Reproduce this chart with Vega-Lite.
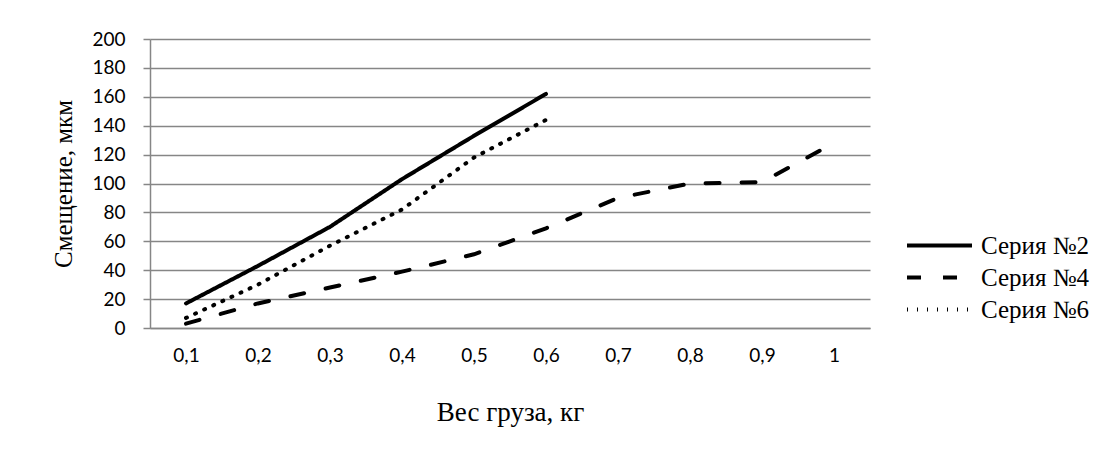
{
  "$schema": "https://vega.github.io/schema/vega-lite/v6.json",
  "autosize": {"type": "none"},
  "padding": {"left": 150, "top": 39, "right": 238, "bottom": 124},
  "width": 720,
  "height": 289,
  "background": "white",
  "config": {"view": {"stroke": null}, "style": {"guide-label": {"font": "Liberation Serif"}}},
  "data": {
    "values": [
      {"w": "0,1", "series": "Серия №2", "v": 17},
      {"w": "0,2", "series": "Серия №2", "v": 43},
      {"w": "0,3", "series": "Серия №2", "v": 70},
      {"w": "0,4", "series": "Серия №2", "v": 103},
      {"w": "0,5", "series": "Серия №2", "v": 133},
      {"w": "0,6", "series": "Серия №2", "v": 162},
      {"w": "0,1", "series": "Серия №4", "v": 3},
      {"w": "0,2", "series": "Серия №4", "v": 17},
      {"w": "0,3", "series": "Серия №4", "v": 28},
      {"w": "0,4", "series": "Серия №4", "v": 39},
      {"w": "0,5", "series": "Серия №4", "v": 51},
      {"w": "0,6", "series": "Серия №4", "v": 69},
      {"w": "0,7", "series": "Серия №4", "v": 90},
      {"w": "0,8", "series": "Серия №4", "v": 100},
      {"w": "0,9", "series": "Серия №4", "v": 101},
      {"w": "1", "series": "Серия №4", "v": 128},
      {"w": "0,1", "series": "Серия №6", "v": 7},
      {"w": "0,2", "series": "Серия №6", "v": 30},
      {"w": "0,3", "series": "Серия №6", "v": 57},
      {"w": "0,4", "series": "Серия №6", "v": 82},
      {"w": "0,5", "series": "Серия №6", "v": 118},
      {"w": "0,6", "series": "Серия №6", "v": 144}
    ]
  },
  "mark": {"type": "line", "strokeWidth": 4, "strokeCap": "round", "color": "black"},
  "encoding": {
    "x": {
      "field": "w", "type": "ordinal",
      "scale": {"type": "point", "padding": 0.5, "domain": ["0,1","0,2","0,3","0,4","0,5","0,6","0,7","0,8","0,9","1"]},
      "axis": {
        "title": "Вес груза, кг", "labelAngle": 0, "ticks": false, "tickSize": 0, "labelPadding": 18,
        "labelFont": "Lato", "labelFontSize": 19, "labelColor": "black",
        "titleFont": "Liberation Serif", "titleFontSize": 27, "titleFontWeight": "normal", "titleColor": "black", "titlePadding": 34,
        "domainColor": "#868686", "domainWidth": 1.5, "grid": false
      }
    },
    "y": {
      "field": "v", "type": "quantitative",
      "scale": {"domain": [0, 200], "nice": false},
      "axis": {
        "title": "Смещение, мкм", "values": [0,20,40,60,80,100,120,140,160,180,200],
        "tickSize": 7, "tickColor": "#868686", "tickWidth": 1.5, "labelPadding": 18,
        "labelFont": "Lato", "labelFontSize": 19, "labelColor": "black",
        "titleFont": "Liberation Serif", "titleFontSize": 25, "titleFontWeight": "normal", "titleColor": "black", "titlePadding": 15,
        "domainColor": "#868686", "domainWidth": 1.5,
        "grid": true, "gridColor": "#868686", "gridWidth": 1.5
      }
    },
    "detail": {"field": "series"},
    "strokeDash": {
      "field": "series", "type": "nominal",
      "scale": {"domain": ["Серия №2","Серия №4","Серия №6"], "range": [[1,0],[14,22],[1,9]]},
      "legend": {
        "title": null, "orient": "none", "legendX": 771, "legendY": 188,
        "symbolType": "M-2,0H2", "symbolSize": 1056, "symbolStrokeWidth": 4, "symbolStrokeColor": "black",
        "labelFont": "Liberation Serif", "labelFontSize": 25, "labelColor": "black", "labelOffset": 23,
        "rowPadding": 0, "labelLimit": 300
      }
    }
  }
}
